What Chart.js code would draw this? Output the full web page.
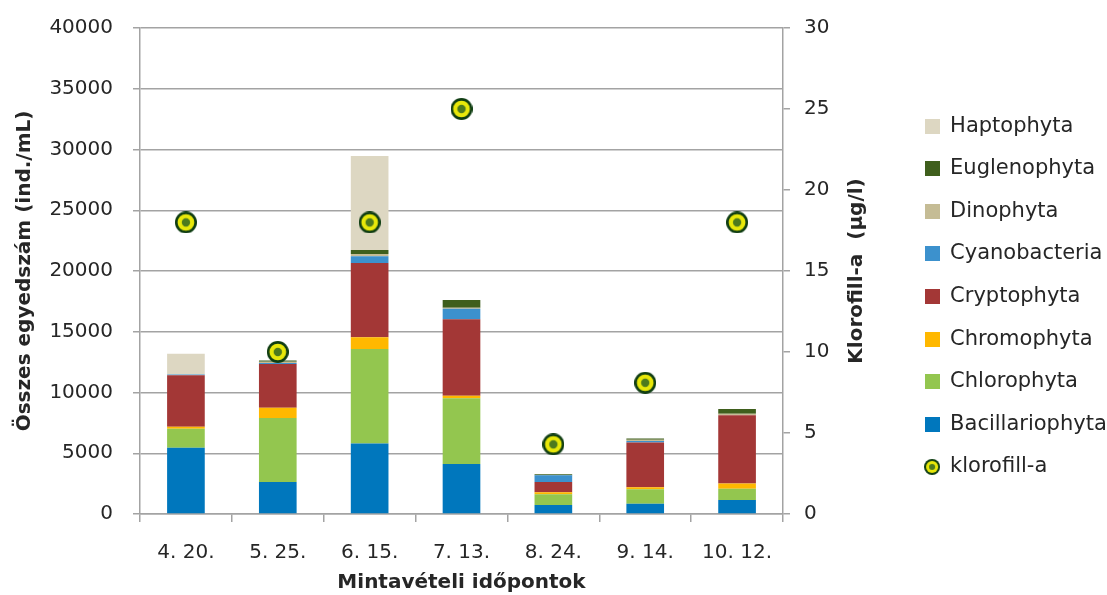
<!DOCTYPE html>
<html>
<head>
<meta charset="utf-8">
<script src="https://cdn.jsdelivr.net/npm/chart.js@4.4.1/dist/chart.umd.min.js"></script>
<style>
  html, body { margin: 0; padding: 0; background: #fff; }
  #wrap { width: 1107px; height: 595px; }
</style>
</head>
<body>
<div id="wrap"><canvas id="chart" width="1107" height="595"></canvas></div>
<script>
const categories = ['4. 20.', '5. 25.', '6. 15.', '7. 13.', '8. 24.', '9. 14.', '10. 12.'];

// egyedszám (ind./mL) by group
const bacillariophyta = [5450, 2630, 5810, 4110, 740, 850, 1150];
const chlorophyta = [1560, 5270, 7770, 5410, 880, 1180, 930];
const chromophyta = [170, 850, 960, 220, 165, 165, 440];
const cryptophyta = [4230, 3600, 6120, 6280, 850, 3700, 5600];
const cyanobacteria = [80, 80, 550, 880, 550, 110, 0];
const dinophyta = [0, 100, 190, 80, 0, 100, 130];
const euglenophyta = [0, 100, 330, 630, 80, 110, 390];
const haptophyta = [1700, 0, 7740, 0, 0, 0, 0];

// klorofill-a (µg/l)
const klorofill = [18, 10, 18, 25, 4.3, 8.1, 18];

const leftTicks = [0, 5000, 10000, 15000, 20000, 25000, 30000, 35000, 40000];
const rightTicks = [0, 5, 10, 15, 20, 25, 30];
const rightTitle = 'Klorofill-a  (µg/l)';

const FONT = 'DejaVu Sans';
const TEXT = '#262626';
const GRID = '#a3a3a3';

function marker(size) {
  const c = document.createElement('canvas');
  c.width = size; c.height = size;
  const g = c.getContext('2d');
  const r = size / 2;
  g.fillStyle = '#0f3d12';
  g.beginPath(); g.arc(r, r, r, 0, Math.PI * 2); g.fill();
  g.fillStyle = '#e8e80a';
  g.beginPath(); g.arc(r, r, r * 0.76, 0, Math.PI * 2); g.fill();
  g.fillStyle = '#4d7a1e';
  g.beginPath(); g.arc(r, r, r * 0.38, 0, Math.PI * 2); g.fill();
  return c;
}

function square(color, size) {
  const c = document.createElement('canvas');
  c.width = size; c.height = size;
  const g = c.getContext('2d');
  g.fillStyle = color;
  g.fillRect(0, 0, size, size);
  return c;
}

function barSet(label, data, color) {
  return {
    type: 'bar',
    label: label,
    data: data,
    backgroundColor: color,
    borderWidth: 0,
    yAxisID: 'y',
    stack: 'a',
    pointStyle: square(color, 15),
    barPercentage: 0.41,
    categoryPercentage: 1
  };
}

// right axis title reads bottom-to-top, so draw it here;
// also move the legend box to where it sits in the original
const extrasPlugin = {
  id: 'extras',
  afterLayout(chart) {
    const lg = chart.legend;
    lg.left = 903; lg.right = 1107; lg.width = 204;
    lg.top -= 6; lg.bottom -= 6;
  },
  afterDraw(chart) {
    const g = chart.ctx;
    const a = chart.chartArea;
    g.save();
    g.translate(857, (a.top + a.bottom) / 2);
    g.rotate(-Math.PI / 2);
    g.fillStyle = TEXT;
    g.font = 'bold 20px "' + FONT + '"';
    g.textAlign = 'center';
    g.textBaseline = 'middle';
    g.fillText(rightTitle, 0, 0);
    g.restore();
  }
};

const ctx = document.getElementById('chart').getContext('2d');
new Chart(ctx, {
  data: {
    labels: categories,
    datasets: [
      {
        type: 'line',
        label: 'klorofill-a',
        data: klorofill,
        yAxisID: 'y1',
        showLine: false,
        pointStyle: marker(22),
        pointRadius: 11,
        pointHoverRadius: 11,
        borderColor: '#0f3d12',
        backgroundColor: '#e8e80a'
      },
      barSet('Bacillariophyta', bacillariophyta, '#0077bd'),
      barSet('Chlorophyta', chlorophyta, '#93c64f'),
      barSet('Chromophyta', chromophyta, '#ffb800'),
      barSet('Cryptophyta', cryptophyta, '#a33736'),
      barSet('Cyanobacteria', cyanobacteria, '#3c91cd'),
      barSet('Dinophyta', dinophyta, '#c5bc95'),
      barSet('Euglenophyta', euglenophyta, '#3f5f1d'),
      barSet('Haptophyta', haptophyta, '#ddd7c2')
    ]
  },
  plugins: [extrasPlugin],
  options: {
    responsive: false,
    animation: false,
    layout: { padding: { top: 10, right: 0, bottom: 0, left: 0 } },
    plugins: {
      tooltip: { enabled: false },
      legend: {
        position: 'right',
        reverse: true,
        labels: {
          usePointStyle: true,
          boxWidth: 15,
          boxHeight: 15,
          padding: 21.6,
          color: TEXT,
          font: { family: FONT, size: 21 },
          generateLabels: (chart) => {
            const items = Chart.defaults.plugins.legend.labels.generateLabels(chart);
            items.forEach(it => {
              if (it.text === 'klorofill-a') it.pointStyle = marker(16);
            });
            return items;
          }
        }
      }
    },
    scales: {
      x: {
        stacked: true,
        offset: true,
        border: { color: GRID, width: 1.5 },
        grid: { offset: true, drawOnChartArea: false, color: GRID, lineWidth: 1.5, tickLength: 8 },
        ticks: { color: TEXT, font: { family: FONT, size: 20 }, padding: 19 },
        title: { display: true, text: 'Mintavételi időpontok', color: TEXT, font: { family: FONT, size: 20, weight: 'bold' }, padding: { top: 4, bottom: 0 } },
        afterFit: (s) => { s.height = 81; }
      },
      y: {
        stacked: true,
        position: 'left',
        min: 0,
        max: 40000,
        afterBuildTicks: (s) => { s.ticks = leftTicks.map(v => ({ value: v })); },
        border: { color: GRID, width: 1.5 },
        grid: { color: GRID, lineWidth: 1.5, tickLength: 7 },
        ticks: { color: TEXT, font: { family: FONT, size: 20 }, padding: 20, callback: (v) => String(v) },
        title: { display: true, text: 'Összes egyedszám (ind./mL)', color: TEXT, font: { family: FONT, size: 20, weight: 'bold' }, padding: { top: 13, bottom: 0 } },
        afterFit: (s) => { s.width = 140; s.paddingTop = 28; s.paddingBottom = 0; }
      },
      y1: {
        position: 'right',
        min: 0,
        max: 30,
        afterBuildTicks: (s) => { s.ticks = rightTicks.map(v => ({ value: v })); },
        border: { color: GRID, width: 1.5 },
        grid: { drawOnChartArea: false, color: GRID, lineWidth: 1.5, tickLength: 7 },
        ticks: { color: TEXT, font: { family: FONT, size: 20 }, padding: 14, callback: (v) => String(v) },
        afterFit: (s) => { s.width = 139.5; s.paddingTop = 28; s.paddingBottom = 0; }
      }
    }
  }
});
</script>
</body>
</html>
